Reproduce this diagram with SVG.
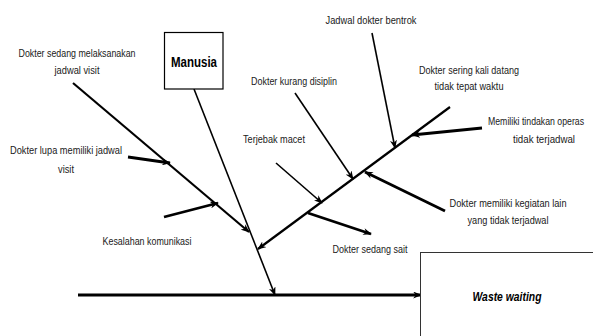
<svg xmlns="http://www.w3.org/2000/svg" width="593" height="336" viewBox="0 0 593 336">
<style>
.t{font-family:"Liberation Sans",Arial,sans-serif;font-size:11px;fill:#1a1a1a;text-anchor:middle}
.b{font-family:"Liberation Sans",Arial,sans-serif;font-weight:bold;fill:#000;text-anchor:middle}
.ln{stroke:#000;fill:none;stroke-linecap:butt}
.thin{stroke-width:1.6}
.mid{stroke-width:2.2}
.thick{stroke-width:2.8}
.box{fill:#fff;stroke:#000;stroke-width:1.2}
</style>
<defs>
<marker id="ah" markerUnits="userSpaceOnUse" viewBox="0 0 10 8" refX="9" refY="4" markerWidth="9" markerHeight="7" orient="auto">
<path d="M0,0 L10,4 L0,8 L3,4 Z" fill="#000"/>
</marker>
</defs>
<rect width="593" height="336" fill="#fff"/>
<g id="connectors">
<line class="ln thick" x1="78" y1="295" x2="421" y2="295" marker-end="url(#ah)"/>
<line class="ln thin" x1="194" y1="89" x2="275" y2="295" marker-end="url(#ah)"/>
<line class="ln mid" x1="73" y1="83" x2="249" y2="232" marker-end="url(#ah)"/>
<line class="ln thick" x1="128" y1="157" x2="170" y2="163" marker-end="url(#ah)"/>
<line class="ln thick" x1="164" y1="217" x2="218" y2="203" marker-end="url(#ah)"/>
<line class="ln mid" x1="450" y1="107" x2="258" y2="249" marker-end="url(#ah)"/>
<line class="ln thin" x1="372" y1="33" x2="395" y2="148" marker-end="url(#ah)"/>
<line class="ln thick" x1="482" y1="128" x2="412" y2="135" marker-end="url(#ah)"/>
<line class="ln thin" x1="295" y1="93" x2="353" y2="179" marker-end="url(#ah)"/>
<line class="ln thick" x1="445" y1="211" x2="365" y2="172" marker-end="url(#ah)"/>
<line class="ln thin" x1="276" y1="163" x2="322" y2="203" marker-end="url(#ah)"/>
<line class="ln thick" x1="308" y1="213" x2="371" y2="234" marker-end="url(#ah)"/>
</g>
<g id="manusia">
<rect class="box" x="164.5" y="32.5" width="58.5" height="56.5"/>
<text class="b" x="194" y="67" font-size="15" textLength="46" lengthAdjust="spacingAndGlyphs">Manusia</text>
</g>
<g id="waste-waiting">
<rect x="420.5" y="252.5" width="190" height="100" fill="#fff" stroke="#333" stroke-width="1"/>
<text class="b" x="507" y="301" font-size="13.5" font-style="italic" textLength="69" lengthAdjust="spacingAndGlyphs">Waste waiting</text>
</g>
<g id="labels">
<text class="t" x="77" y="57" textLength="117" lengthAdjust="spacingAndGlyphs">Dokter sedang melaksanakan</text>
<text class="t" x="77" y="74" textLength="45" lengthAdjust="spacingAndGlyphs">jadwal visit</text>
<text class="t" x="66" y="154" textLength="112" lengthAdjust="spacingAndGlyphs">Dokter lupa memiliki jadwal</text>
<text class="t" x="66" y="173" textLength="16" lengthAdjust="spacingAndGlyphs">visit</text>
<text class="t" x="147" y="245" textLength="89" lengthAdjust="spacingAndGlyphs">Kesalahan komunikasi</text>
<text class="t" x="294" y="85" textLength="86" lengthAdjust="spacingAndGlyphs">Dokter kurang disiplin</text>
<text class="t" x="274" y="143" textLength="62" lengthAdjust="spacingAndGlyphs">Terjebak macet</text>
<text class="t" x="371" y="24" textLength="91" lengthAdjust="spacingAndGlyphs">Jadwal dokter bentrok</text>
<text class="t" x="469" y="74" textLength="100" lengthAdjust="spacingAndGlyphs">Dokter sering kali datang</text>
<text class="t" x="469" y="90" textLength="69" lengthAdjust="spacingAndGlyphs">tidak tepat waktu</text>
<text class="t" x="536" y="125" font-size="10" textLength="96" lengthAdjust="spacingAndGlyphs">Memiliki tindakan operas</text>
<text class="t" x="544" y="143" textLength="62" lengthAdjust="spacingAndGlyphs">tidak terjadwal</text>
<text class="t" x="508" y="207" textLength="117" lengthAdjust="spacingAndGlyphs">Dokter memiliki kegiatan lain</text>
<text class="t" x="508" y="224" textLength="81" lengthAdjust="spacingAndGlyphs">yang tidak terjadwal</text>
<text class="t" x="370" y="253" textLength="75" lengthAdjust="spacingAndGlyphs">Dokter sedang sait</text>
</g>
</svg>
